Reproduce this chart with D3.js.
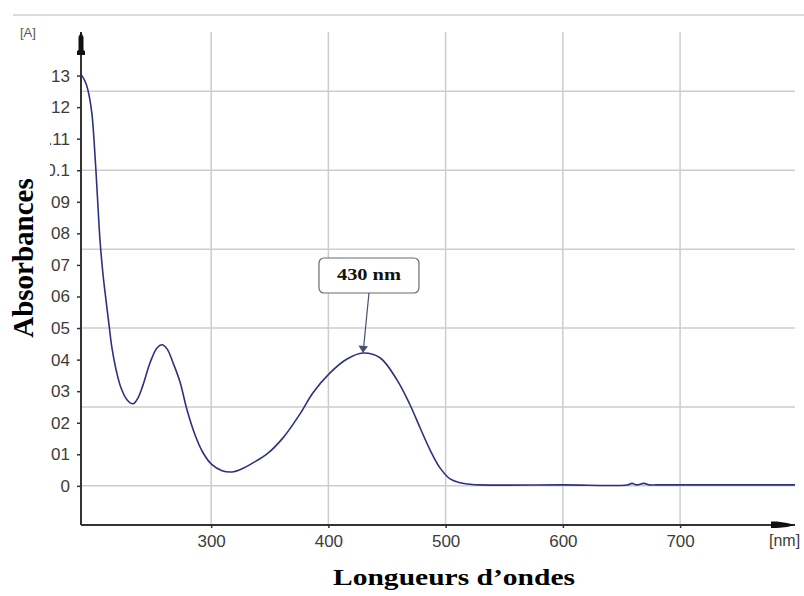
<!DOCTYPE html>
<html>
<head>
<meta charset="utf-8">
<script src="https://cdn.jsdelivr.net/npm/d3@7/dist/d3.min.js"></script>
<style>
  html, body { margin: 0; padding: 0; background: #fff; }
  svg { display: block; }
</style>
</head>
<body>
<script>
// spectrum: wavelength (nm) and absorbance
let wavelengths = [189, 189.9, 193.3, 195.8, 198.4, 200.1, 201.8, 203.5, 205.2, 207.8, 210.3, 212.9, 215.4,
    218.9, 223.1, 228.2, 233.4, 237.6, 241.9, 247.9, 253.8, 258.1, 262.4, 267.5, 273.4, 279.4, 286.2,
    293.1, 300.7, 309.3, 317.8, 326.3, 335.7, 347.7, 361.3, 375.8, 386.9, 401.4, 415.9, 429.5, 444,
    458.5, 469.6, 478.2, 486.7, 495.2, 503.8, 512.3, 520.8, 529.3, 600, 655, 659, 663, 669, 674, 680, 750, 798];
let absorbances = [0.1302, 0.1299, 0.1274, 0.1239, 0.1176, 0.1096, 0.0995, 0.0884, 0.0779, 0.0669, 0.0589, 0.051, 0.0437,
    0.0368, 0.0311, 0.0273, 0.026, 0.0279, 0.032, 0.039, 0.0437, 0.0447, 0.0434, 0.039, 0.033, 0.0241, 0.0162,
    0.0105, 0.0067, 0.0048, 0.0044, 0.0054, 0.0073, 0.0101, 0.0152, 0.0228, 0.0295, 0.0358, 0.0402, 0.0421, 0.0406,
    0.0336, 0.0257, 0.0184, 0.0114, 0.0057, 0.0022, 0.001, 0.0005, 0.0003, 0.0003, 0.0003, 0.0008, 0.0003, 0.0008, 0.0003, 0.0003, 0.0003, 0.0003];

let xTicks = [300, 400, 500, 600, 700];
let yTicks = [0, 0.01, 0.02, 0.03, 0.04, 0.05, 0.06, 0.07, 0.08, 0.09, 0.1, 0.11, 0.12, 0.13];
let yGrid = [0, 0.025, 0.05, 0.075, 0.1, 0.125];
let peakNm = 429.5;
let peakLabel = '430 nm';

let width = 804, height = 596;
let xMin = 189, xMax = 798;
let yMin = -0.0124, yMax = 0.1438;

let svg = d3.select('body').append('svg')
    .attr('width', width)
    .attr('height', height);

let xScale = d3.scaleLinear().domain([xMin, xMax]).range([81, 795]);
let yScale = d3.scaleLinear().domain([yMin, yMax]).range([525, 32]);

// thin rule across the top of the picture
svg.append('line')
    .attr('x1', 13).attr('x2', width)
    .attr('y1', 15).attr('y2', 15)
    .attr('stroke', '#cfcfcf').attr('stroke-width', 1.5);

// grid
svg.append('g').selectAll('line')
    .data(xTicks)
    .join('line')
    .attr('x1', d => xScale(d)).attr('x2', d => xScale(d))
    .attr('y1', yScale(yMax)).attr('y2', yScale(yMin))
    .attr('stroke', '#cdcdcd').attr('stroke-width', 1.5);

svg.append('g').selectAll('line')
    .data(yGrid)
    .join('line')
    .attr('x1', xScale(xMin)).attr('x2', xScale(xMax))
    .attr('y1', d => yScale(d)).attr('y2', d => yScale(d))
    .attr('stroke', '#cdcdcd').attr('stroke-width', 1.5);

// labels on the left are cut by the picture edge
svg.append('clipPath').attr('id', 'yclip')
    .append('rect').attr('x', 50).attr('y', 0).attr('width', 60).attr('height', height);

let yAxis = d3.axisLeft(yScale)
    .tickValues(yTicks)
    .tickSize(4)
    .tickPadding(7)
    .tickFormat(d => String(d));

let yAxisG = svg.append('g')
    .attr('clip-path', 'url(#yclip)')
    .append('g')
    .attr('transform', `translate(${xScale(xMin)}, 0)`)
    .call(yAxis);

let xAxis = d3.axisBottom(xScale)
    .tickValues(xTicks)
    .tickSize(3)
    .tickPadding(7);

let xAxisG = svg.append('g')
    .attr('transform', `translate(0, ${yScale(yMin)})`)
    .call(xAxis);

[yAxisG, xAxisG].forEach(g => {
    g.select('.domain').remove();
    g.selectAll('.tick line').attr('stroke', '#333').attr('stroke-width', 1.5);
    g.selectAll('.tick text')
        .attr('fill', '#3c3c3c')
        .style('font-family', '"Liberation Sans", Arial, sans-serif')
        .style('font-size', '17px');
});

// axis lines with the arrow ends
svg.append('line')
    .attr('x1', xScale(xMin)).attr('x2', xScale(xMin))
    .attr('y1', yScale(yMax)).attr('y2', yScale(yMin))
    .attr('stroke', '#333').attr('stroke-width', 2);
svg.append('line')
    .attr('x1', xScale(xMin)).attr('x2', xScale(xMax))
    .attr('y1', yScale(yMin)).attr('y2', yScale(yMin))
    .attr('stroke', '#333').attr('stroke-width', 2);

let ax = xScale(xMin), ayTop = yScale(yMax);
svg.append('path')
    .attr('d', `M${ax},${ayTop} L${ax + 2.5},${ayTop + 5} L${ax + 2.5},${ayTop + 18} L${ax + 4},${ayTop + 19}
        L${ax + 4},${ayTop + 23} L${ax - 4},${ayTop + 23} L${ax - 4},${ayTop + 19} L${ax - 2.5},${ayTop + 18}
        L${ax - 2.5},${ayTop + 5} Z`)
    .attr('fill', '#111');

let bx = xScale(xMax), by = yScale(yMin);
svg.append('path')
    .attr('d', `M${bx},${by} L${bx - 8},${by - 2} L${bx - 18},${by - 3.5} L${bx - 24},${by - 3.5}
        L${bx - 24},${by + 3} L${bx - 18},${by + 3} L${bx - 8},${by + 2} Z`)
    .attr('fill', '#111');

svg.append('text')
    .attr('x', 20).attr('y', 37)
    .attr('fill', '#555')
    .style('font-family', '"Liberation Sans", Arial, sans-serif')
    .style('font-size', '13px')
    .text('[A]');

svg.append('text')
    .attr('x', 769).attr('y', 546)
    .attr('fill', '#3c3c3c')
    .style('font-family', '"Liberation Sans", Arial, sans-serif')
    .style('font-size', '16px')
    .text('[nm]');

// spectrum
let dataset = wavelengths.map((w, i) => ({nm: w, a: absorbances[i]}));
let line = d3.line()
    .x(d => xScale(d.nm))
    .y(d => yScale(d.a))
    .curve(d3.curveCatmullRom.alpha(0.5));

svg.append('path')
    .datum(dataset)
    .attr('fill', 'none')
    .attr('stroke', '#2e3180')
    .attr('stroke-width', 1.6)
    .attr('d', line);

// callout for the peak
let peakA = absorbances[wavelengths.indexOf(peakNm)];
let px = xScale(peakNm), py = yScale(peakA);
let boxCx = px + 6, boxTop = 258, boxH = 35, boxW = 100;

svg.append('rect')
    .attr('x', boxCx - boxW / 2).attr('y', boxTop)
    .attr('width', boxW).attr('height', boxH)
    .attr('rx', 5)
    .attr('fill', '#fff')
    .attr('stroke', '#6a6a6a').attr('stroke-width', 1.2);

svg.append('text')
    .attr('x', boxCx).attr('y', boxTop + 22)
    .attr('text-anchor', 'middle')
    .attr('textLength', 64)
    .attr('lengthAdjust', 'spacingAndGlyphs')
    .style('font-family', '"Liberation Serif", "Times New Roman", serif')
    .style('font-weight', 'bold')
    .style('font-size', '17px')
    .attr('fill', '#111')
    .text(peakLabel);

svg.append('line')
    .attr('x1', boxCx).attr('y1', boxTop + boxH)
    .attr('x2', px + 0.8).attr('y2', py - 7)
    .attr('stroke', '#45506e').attr('stroke-width', 1.2);
svg.append('path')
    .attr('d', `M${px},${py} L${px - 4.5},${py - 7.5} L${px + 5},${py - 6.8} Z`)
    .attr('fill', '#45506e');

// axis titles
svg.append('text')
    .attr('transform', 'translate(33, 258) rotate(-90)')
    .attr('text-anchor', 'middle')
    .style('font-family', '"Liberation Serif", "Times New Roman", serif')
    .style('font-weight', 'bold')
    .style('font-size', '29px')
    .attr('fill', '#000')
    .text('Absorbances');

svg.append('text')
    .attr('x', 454).attr('y', 585)
    .attr('text-anchor', 'middle')
    .attr('textLength', 242)
    .attr('lengthAdjust', 'spacingAndGlyphs')
    .style('font-family', '"Liberation Serif", "Times New Roman", serif')
    .style('font-weight', 'bold')
    .style('font-size', '23px')
    .attr('fill', '#000')
    .text('Longueurs d’ondes');
</script>
</body>
</html>
